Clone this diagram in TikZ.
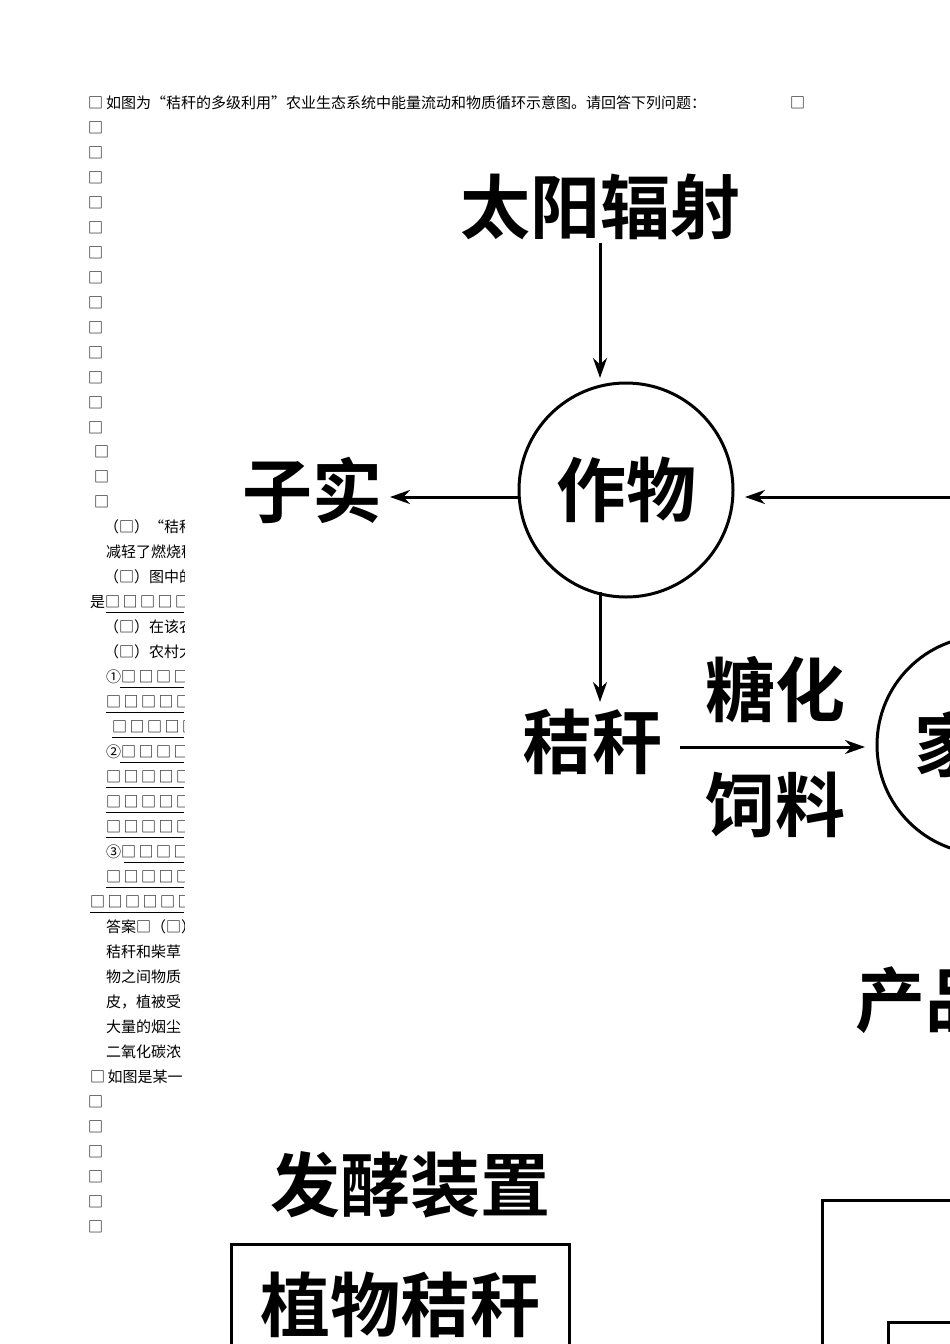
\documentclass[tikz,border=0pt]{standalone}
\usepackage{fontspec}
\setmainfont{Liberation Serif}
\newfontfamily\cjk{Noto Sans CJK SC}
\newfontfamily\cjkb{Noto Sans CJK SC Bold}
\usetikzlibrary{arrows.meta}
\begin{document}
\begin{tikzpicture}[x=1pt,y=-1pt,
  small/.style={font=\cjk\fontsize{15}{16}\selectfont,anchor=west,inner sep=0pt},
  big/.style={font=\cjkb\fontsize{70}{72}\selectfont,inner sep=0pt},
  arr/.style={line width=3pt,-{Stealth[length=20pt,width=14pt]}},
  ring/.style={draw,line width=3pt,circle},
  ul/.style={line width=1pt}]
\useasboundingbox (0,0) rectangle (950,1344);
% header
\node[small] (h0) at (88,103) {□};
\node[small] (h1) at (106,103) {如图为“秸秆的多级利用”农业生态系统中能量流动和物质循环示意图。请回答下列问题：};
\node[small] (h2) at (790,103) {□};
% left squares
\foreach \i in {0,...,12} \node[small] (a\i) at (88,128+25*\i) {□};
\foreach \i in {0,1,2} \node[small] (b\i) at (94,452+25*\i) {□};
\begin{scope}
\clip (80,510) rectangle (184,1090);
\node[small] (t1) at (104,527) {（□）“秸秆的多级利用”};
\node[small] (t2) at (106,552) {减轻了燃烧秸秆};
\node[small] (t3) at (104,577) {（□）图中的};
\node[small] (t4) at (90,602) {是□\,□\,□\,□\,□\,□};
\node[small] (t5) at (104,627) {（□）在该农业};
\node[small] (t6) at (104,652) {（□）农村大量};
\node[small] (t7) at (106,677) {①□\,□\,□\,□\,□};
\node[small] (t8) at (106,702) {□\,□\,□\,□\,□\,□};
\node[small] (t9) at (112,727) {□\,□\,□\,□\,□\,□};
\node[small] (t10) at (106,752) {②□\,□\,□\,□\,□};
\node[small] (t11) at (106,777) {□\,□\,□\,□\,□\,□};
\node[small] (t12) at (106,802) {□\,□\,□\,□\,□\,□};
\node[small] (t13) at (106,827) {□\,□\,□\,□\,□\,□};
\node[small] (t14) at (106,852) {③□\,□\,□\,□\,□};
\node[small] (t15) at (106,877) {□\,□\,□\,□\,□\,□};
\node[small] (t16) at (90,902) {□\,□\,□\,□\,□\,□\,□};
\node[small] (t17) at (106,927) {答案□（□）};
\node[small] (t18) at (106,952) {秸秆和柴草};
\node[small] (t19) at (106,977) {物之间物质};
\node[small] (t20) at (106,1002) {皮，植被受};
\node[small] (t21) at (106,1027) {大量的烟尘};
\node[small] (t22) at (106,1052) {二氧化碳浓};
\node[small] (t23) at (90,1077) {□\,如图是某一};
\foreach \y/\x in {612/106,687/120,712/106,737/112,762/120,787/106,812/106,837/106,862/124,887/106,912/90}
  \draw[ul] (\x,\y) -- (184,\y);
\end{scope}
\foreach \i in {0,...,5} \node[small] (c\i) at (88,1102+25*\i) {□};
% diagram
\node[big] (sun) at (600,207) {太阳辐射};
\node[ring,minimum size=214pt] (crop) at (626,490) {};
\node[big] at (crop.center) {作物};
\node[big] (seed) at (312,490) {子实};
\node[big] (straw) at (592,742) {秸秆};
\node[big] (sug) at (775,690) {糖化};
\node[big] (feed) at (775,805) {饲料};
\node[ring,minimum size=218pt] (live) at (986,745) {};
\node[big,anchor=west] (jia) at (914,745) {家畜};
\node[big,anchor=west] (prod) at (855,1000) {产品};
\node[big] (ferm) at (410,1185) {发酵装置};
\node[draw,line width=3pt,minimum width=338pt,minimum height=140pt,anchor=north west] (box1) at (230,1243) {};
\node[big] (plant) at (400,1305) {植物秸秆};
\draw[line width=3pt] (822,1400) |- (960,1200);
\draw[line width=3pt] (888,1400) |- (960,1322);
\coordinate (r) at (950,497);
\draw[arr] (600,243) -- (600,378);
\draw[arr] (crop.west |- 0,497) -- (390,497);
\draw[arr] (r) -- (745,497);
\draw[arr] (600,592) -- (600,702);
\draw[arr] (680,747) -- (865,747);
\end{tikzpicture}
\end{document}
